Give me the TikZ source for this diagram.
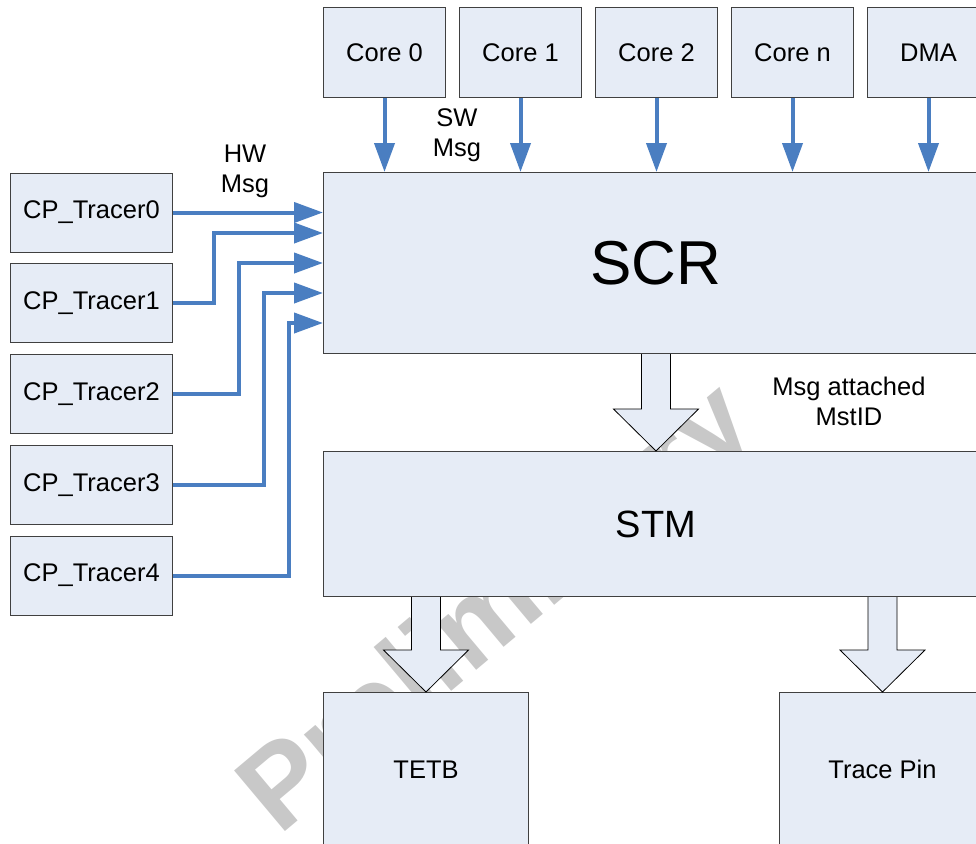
\documentclass[tikz,border=0pt]{standalone}
\usepackage{fontspec}
\setmainfont{Liberation Sans}
\usetikzlibrary{arrows.meta,calc}

\definecolor{boxfill}{RGB}{230,236,246}
\definecolor{boxline}{RGB}{64,64,64}
\definecolor{linkblue}{RGB}{74,126,193}
\definecolor{wmgray}{RGB}{200,200,200}

\begin{document}
\begin{tikzpicture}[x=1pt,y=-1pt,
  blk/.style={draw=boxline, fill=boxfill, line width=1pt, inner sep=0pt,
              anchor=north west, font=\fontsize{25.5}{30}\selectfont},
  corebox/.style={blk, minimum width=122pt, minimum height=90pt},
  tracerbox/.style={blk, minimum width=162pt, minimum height=79pt},
  label/.style={align=center, inner sep=0pt, font=\fontsize{25.5}{30}\selectfont},
  link/.style={draw=linkblue, line width=4pt,
               -{Triangle[length=29pt,width=20pt]}, color=linkblue},
  fat/.style={draw=black, fill=boxfill, line width=0.8pt, line join=miter}
]
% page frame
\clip (0,0) rectangle (976,843);
\useasboundingbox (0,0) rectangle (976,843);

% watermark behind everything
\node[rotate=40, text=wmgray, inner sep=0pt,
      font=\bfseries\fontsize{115}{115}\selectfont] (wm) at (500,612) {Preliminary};

% cores
\node[corebox] (c0) at (323,7) {Core 0};
\node[corebox] (c1) at (459,7) {Core 1};
\node[corebox] (c2) at (595,7) {Core 2};
\node[corebox] (cn) at (731,7) {Core n};
\node[corebox] (dma) at (867,7) {DMA};

% main blocks
\node[blk, minimum width=665pt, minimum height=181pt,
      font=\fontsize{62}{62}\selectfont] (scr) at (323,172) {SCR};
\node[blk, minimum width=665pt, minimum height=145pt,
      font=\fontsize{38}{38}\selectfont] (stm) at (323,451) {STM};
\node[blk, minimum width=205pt, minimum height=154pt] (tetb) at (323,692) {TETB};
\node[blk, minimum width=206pt, minimum height=154pt] (pin) at (779,692) {Trace Pin};

% tracers
\node[tracerbox] (t0) at (10,172.5) {CP\_Tracer0};
\node[tracerbox] (t1) at (10,263.2) {CP\_Tracer1};
\node[tracerbox] (t2) at (10,354) {CP\_Tracer2};
\node[tracerbox] (t3) at (10,444.7) {CP\_Tracer3};
\node[tracerbox] (t4) at (10,535.5) {CP\_Tracer4};

% labels
\node[label] (hw) at (245,171) {HW\\Msg};
\node[label] (sw) at (457,135) {SW\\Msg};
\node[label] (att) at (849,401) {Msg attached\\MstID};

% software messages from the cores
\foreach \c in {c0,c1,c2,cn,dma}
  \draw[link] (\c.south) -- (\c.south |- scr.north);

% hardware messages from the tracers
\draw[link] (t0.east) -- (t0.east -| scr.west);
\draw[link] (t1.east) -- ++(41,0) |- ($(scr.north west)+(0,61)$);
\draw[link] (t2.east) -- ++(66,0) |- ($(scr.north west)+(0,91)$);
\draw[link] (t3.east) -- ++(91,0) |- ($(scr.north west)+(0,121)$);
\draw[link] (t4.east) -- ++(116,0) |- ($(scr.north west)+(0,151)$);

% block arrows between stages
\newcommand\fatarrow[2]{%
  \draw[fat] ($(#1)+(-14.5,0)$) -- ($(#2)+(-14.5,-42)$) -- ($(#2)+(-42.5,-42)$)
    -- (#2) -- ($(#2)+(42.5,-42)$) -- ($(#2)+(14.5,-42)$) -- ($(#1)+(14.5,0)$);}
\fatarrow{scr.south}{stm.north}
\fatarrow{stm.south -| tetb.north}{tetb.north}
\fatarrow{stm.south -| pin.north}{pin.north}
\end{tikzpicture}
\end{document}
